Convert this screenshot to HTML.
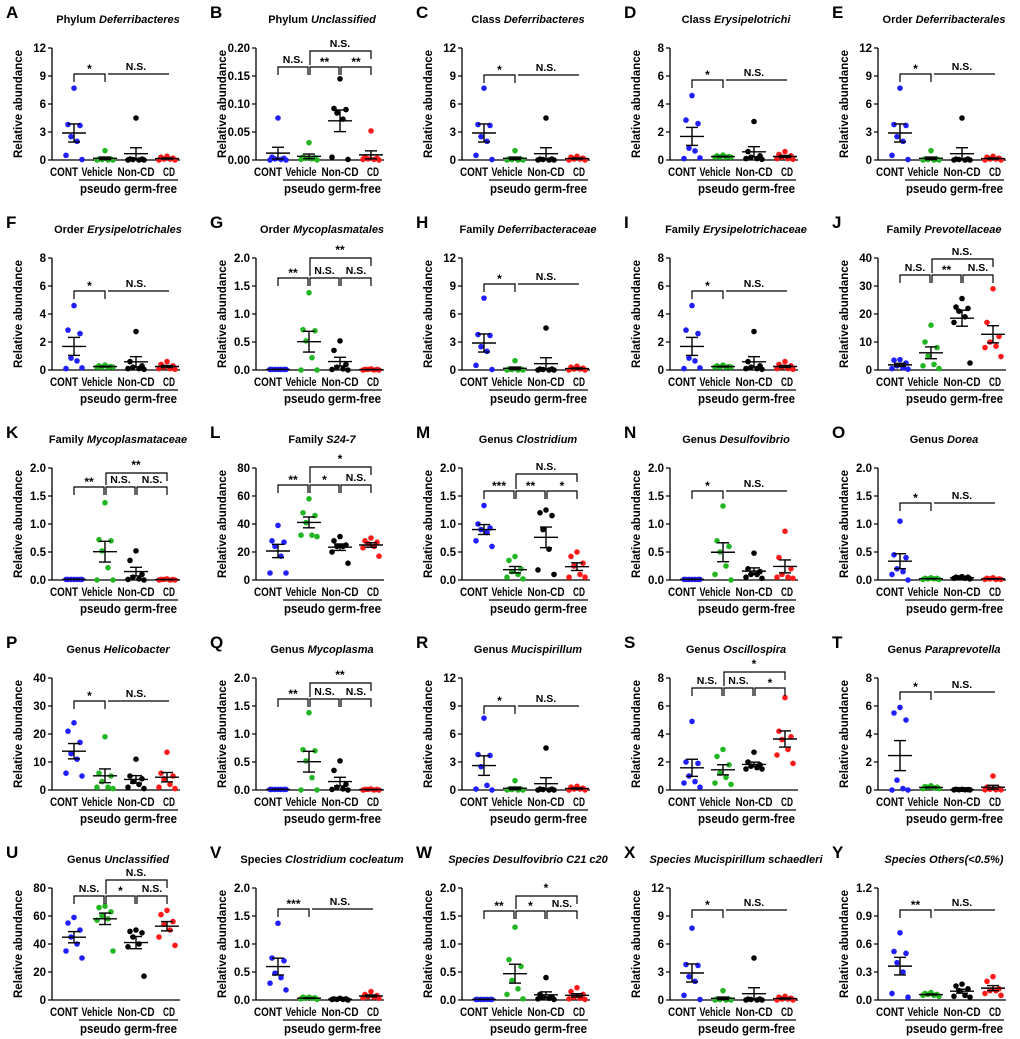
<!DOCTYPE html>
<html><head><meta charset="utf-8"><style>
html,body{margin:0;padding:0;background:#fff;}
svg{display:block;font-family:"Liberation Sans",Arial,sans-serif;}
</style></head><body>
<svg id="fig" width="1020" height="1039" viewBox="0 0 1020 1039" xmlns="http://www.w3.org/2000/svg"></svg>
<script>
const panelIds=["A","B","C","D","E","F","G","H","I","J","K","L","M","N","O","P","Q","R","S","T","U","V","W","X","Y"];
const titlePre=["Phylum ","Phylum ","Class ","Class ","Order ","Order ","Order ","Family ","Family ","Family ","Family ","Family ","Genus ","Genus ","Genus ","Genus ","Genus ","Genus ","Genus ","Genus ","Genus ","Species ","Species ","Species ","Species "];
const titleIt=["Deferribacteres","Unclassified","Deferribacteres","Erysipelotrichi","Deferribacterales","Erysipelotrichales","Mycoplasmatales","Deferribacteraceae","Erysipelotrichaceae","Prevotellaceae","Mycoplasmataceae","S24-7","Clostridium","Desulfovibrio","Dorea","Helicobacter","Mycoplasma","Mucispirillum","Oscillospira","Paraprevotella","Unclassified","Clostridium cocleatum","Desulfovibrio C21 c20","Mucispirillum schaedleri","Others(<0.5%)"];
const allItalic=[0,0,0,0,0,0,0,0,0,0,0,0,0,0,0,0,0,0,0,0,0,0,1,1,1];
const yMax=[12,0.2,12,8,12,8,2,12,8,40,2,80,2,2,2,40,2,12,8,8,80,2,2,12,1.2];
const yStep=[3,0.05,3,2,3,2,0.5,3,2,10,0.5,20,0.5,0.5,0.5,10,0.5,3,2,2,20,0.5,0.5,3,0.3];
const yDec=[0,2,0,0,0,0,1,0,0,0,1,0,1,1,1,0,1,0,0,0,0,1,1,0,1];
const groups=["CONT","Vehicle","Non-CD","CD"];
const defCont=[7.7,3.8,3.7,2.5,2.0,0.5,0.05], defVeh=[1.0,0.1,0.1,0.05,0,0,0], defNon=[4.5,0.1,0.1,0.05,0,0,0], defCD=[0.4,0.3,0.2,0.1,0.1,0,0];
const eryCont=[4.6,2.85,2.6,0.85,0.65,0.1,0.15], eryVeh=[0.35,0.3,0.25,0.2,0.2,0.2,0.2], eryNon=[2.75,0.6,0.3,0.2,0.1,0.1,0.05], eryCD=[0.6,0.4,0.3,0.2,0.1,0.1,0.05];
const myCont=[0.01,0.01,0.01,0.01,0.01,0.01,0.01], myVeh=[1.38,0.72,0.7,0.52,0.22,0,0], myNon=[0.52,0.35,0.1,0.05,0.02,0.01,0], myCD=[0.02,0.01,0.01,0.01,0,0,0];
const contVals=[defCont,[0.075,0.005,0.003,0.002,0.001,0,0],defCont,eryCont,defCont,eryCont,myCont,defCont,eryCont,[3.7,3.5,2.5,1.5,0.8,0.5,0.3],
 myCont,[39,28,27,24,17,5,5],[1.33,1.0,0.93,0.9,0.85,0.7,0.6],[0.01,0.01,0.01,0.01,0.01,0.01,0.01],[1.05,0.45,0.4,0.2,0.15,0.1,0.0],
 [24,21,17,13,11,6,5],myCont,[7.7,3.8,3.7,2.5,0.5,0.1,0],[4.9,2.0,1.9,1.0,0.6,0.5,0.2],[5.9,5.5,5.0,0.7,0.1,0,0],
 [59,55,50,45,40,35,30],[1.37,0.75,0.7,0.48,0.4,0.3,0.18],[0.01,0.01,0.01,0.01,0.01,0.01,0.01],defCont,[0.72,0.52,0.5,0.4,0.3,0.07,0.03]];
const vehVals=[defVeh,[0.031,0.005,0.004,0.003,0.002,0.001,0],defVeh,eryVeh,defVeh,eryVeh,myVeh,defVeh,eryVeh,[16,10,8,5,2,1.5,0.5],
 myVeh,[58,48,46,41,32,32,31],[0.42,0.35,0.2,0.15,0.1,0.05,0.02],[1.32,0.7,0.6,0.5,0.25,0.1,0],[0.04,0.03,0.03,0.02,0.02,0.01,0.01],
 [19,6,5,3,1,1,0.5],myVeh,defVeh,[2.9,2.4,1.8,1.2,0.9,0.5,0.4],[0.3,0.25,0.2,0.2,0.15,0.1,0.1],
 [67,66,63,60,58,57,35],[0.05,0.05,0.04,0.03,0.03,0.02,0.01],[1.3,0.72,0.6,0.35,0.2,0.1,0.02],defVeh,[0.08,0.07,0.06,0.06,0.05,0.05,0.04]];
const nonVals=[defNon,[0.145,0.092,0.09,0.084,0.073,0.005,0.001],defNon,eryNon,defNon,eryNon,myNon,defNon,eryNon,[25.5,22.5,22,21,19,17,2.5],
 myNon,[31,28,25,24,24,20,12],[1.25,1.2,1.15,0.9,0.55,0.18,0.1],[0.48,0.2,0.15,0.1,0.1,0.05,0.03],[0.06,0.05,0.05,0.04,0.03,0.03,0.02],
 [11,5,4,3,2,1,0.5],myNon,defNon,[2.7,2.0,1.8,1.7,1.6,1.5,1.5],[0.05,0.05,0.03,0.02,0.02,0.01,0.01],
 [50,49,48,45,40,38,17],[0.03,0.02,0.02,0.01,0.01,0.01,0],[0.4,0.1,0.05,0.04,0.03,0.02,0.01],defNon,[0.17,0.15,0.12,0.1,0.05,0.04,0.03]];
const cdVals=[defCD,[0.052,0.005,0.003,0.002,0.001,0.001,0],defCD,eryCD,defCD,eryCD,myCD,defCD,eryCD,[29,17,12,10,8.5,8,4.8],
 myCD,[30,28,27,26,24,23,17],[0.5,0.42,0.3,0.25,0.1,0.05,0.05],[0.87,0.4,0.2,0.1,0.05,0.05,0.03],[0.04,0.03,0.02,0.02,0.01,0.01,0.01],
 [13.5,6,5,4,2,1,0.5],myCD,defCD,[6.6,4.2,3.8,3.6,2.9,2.5,1.9],[1.0,0.2,0.1,0.05,0.02,0.01,0.01],
 [64,61,56,54,50,45,39],[0.15,0.1,0.08,0.06,0.05,0.04,0.03],[0.22,0.15,0.1,0.05,0.03,0.02,0.01],defCD,[0.25,0.2,0.12,0.1,0.1,0.07,0.05]];
const sigType=[1,2,1,1,1,1,2,1,1,2,2,2,2,1,1,1,2,1,2,1,2,1,2,1,1];
const sigLabels=[["*","N.S."],["N.S.","**","**","N.S."],["*","N.S."],["*","N.S."],["*","N.S."],["*","N.S."],["**","N.S.","N.S.","**"],["*","N.S."],["*","N.S."],["N.S.","**","N.S.","N.S."],
 ["**","N.S.","N.S.","**"],["**","*","N.S.","*"],["***","**","*","N.S."],["*","N.S."],["*","N.S."],["*","N.S."],["**","N.S.","N.S.","**"],["*","N.S."],["N.S.","N.S.","*","*"],["*","N.S."],
 ["N.S.","*","N.S.","N.S."],["***","N.S."],["**","*","N.S.","*"],["*","N.S."],["**","N.S."]];
const sigLow=[26,19,27,32,26,33,20,26,33,17,19,17,23,23,35,23,21,28,10,14,8,21,23,22,22];
const sigTop=[0,3,0,0,0,0,0,0,0,1,5,-1,6,0,0,0,5,0,-6,0,-8,0,8,0,0];

const svg=document.getElementById('fig');
const NS='http://www.w3.org/2000/svg';
function mk(tag,attrs,parent){const e=document.createElementNS(NS,tag);for(const k in attrs)e.setAttribute(k,attrs[k]);(parent||svg).appendChild(e);return e;}
const colX=[0,204,410,618,826];
const catOff=[74,105,136,167];
const labC=[64,97,136,169];
const labW=[28,31,37,12];
const colors=["#1f1fff","#22b722","#000000","#ff1a1a"];
const jit=[0,-6,6,-3,3,-8,8];
const H=112;

panelIds.forEach((id,i)=>{
  const r=Math.floor(i/5),c=i%5;
  const cx=colX[c], top=48+r*210, bot=top+H;
  const L=cx+52, R=cx+180;
  const g=mk('g',{});
  
  
  const yS=v=>bot-v/yMax[i]*H;
  const xS=k=>cx+catOff[k];
  const lt=mk('text',{x:cx+6,y:top-30,'font-size':17,'font-weight':'bold'},g);lt.textContent=id;
  
  
  const tt=mk('text',{x:cx+118,y:top-25,'font-size':11,'font-weight':'bold','text-anchor':'middle'},g);
  
  
  const t1=mk('tspan',{'font-style':allItalic[i]?'italic':'normal'},tt);t1.textContent=titlePre[i];
  const t2=mk('tspan',{'font-style':'italic'},tt);t2.textContent=titleIt[i];
  const ya=mk('line',{x1:L,y1:top,x2:L,y2:bot,stroke:'#000','stroke-width':1.3},g);
  
  
  const xa=mk('line',{x1:L,y1:bot,x2:R,y2:bot,stroke:'#000','stroke-width':1.3},g);
  
  
  const nT=Math.round(yMax[i]/yStep[i]);
  for(let t=0;t<=nT;t++){
    const v=t*yStep[i], y=yS(v);
    mk('line',{x1:L-4,y1:y,x2:L,y2:y,stroke:'#000','stroke-width':1.2},g);
    const tl=mk('text',{x:L-6,y:y+4,'font-size':11.5,'font-weight':'bold','text-anchor':'end'},g);
    tl.textContent=v.toFixed(yDec[i]);
    
    
  }
  const yl=mk('text',{x:0,y:0,'font-size':11.5,'font-weight':'bold','text-anchor':'middle',transform:`translate(${L-30},${top+H/2}) rotate(-90)`},g);
  yl.textContent='Relative abundance';
  
  
  groups.forEach((gn,k)=>{
    const xl=mk('text',{x:cx+labC[k]-labW[k]/2,y:bot+16,'font-size':12,'font-weight':'bold',textLength:labW[k],lengthAdjust:'spacingAndGlyphs'},g);
    xl.textContent=gn;
    
    
  });
  const ux1=cx+79, ux2=cx+178;
  mk('line',{x1:ux1,y1:bot+20,x2:ux2,y2:bot+20,stroke:'#000','stroke-width':1.2},g);
  const pg=mk('text',{x:ux1+1,y:bot+33,'font-size':12.5,'font-weight':'bold',textLength:ux2-ux1-2,lengthAdjust:'spacingAndGlyphs'},g);
  pg.textContent='pseudo germ-free';
  
  
  [contVals[i],vehVals[i],nonVals[i],cdVals[i]].forEach((vals,k)=>{
    const x0=xS(k);
    vals.forEach((v,j)=>{
      const d=mk('circle',{cx:x0+jit[j],cy:yS(v),r:2.8,fill:colors[k]},g);
      
      
    });
    const n=vals.length, m=vals.reduce((a,b)=>a+b,0)/n;
    const sd=Math.sqrt(vals.reduce((a,b)=>a+(b-m)*(b-m),0)/(n-1)), se=sd/Math.sqrt(n);
    const eb=mk('g',{stroke:'#000','stroke-width':1.4},g);
    
    
    mk('line',{x1:x0-12,y1:yS(m),x2:x0+12,y2:yS(m)},eb);
    mk('line',{x1:x0,y1:yS(m+se),x2:x0,y2:yS(Math.max(0,m-se))},eb);
    mk('line',{x1:x0-6,y1:yS(m+se),x2:x0+6,y2:yS(m+se)},eb);
    mk('line',{x1:x0-6,y1:yS(Math.max(0,m-se)),x2:x0+6,y2:yS(Math.max(0,m-se))},eb);
  });
  const sg=mk('g',{stroke:'#000','stroke-width':1.2,fill:'none'},g);
  
  
  const lab=(x,y,s)=>{const t=mk('text',{x:x,y:y,'font-size':s.indexOf('*')>=0?12:10.5,'font-weight':'bold','text-anchor':'middle',fill:'#000',stroke:'none'},g);t.textContent=s;
    
    };
  const br=(x1,x2,y,s)=>{mk('path',{d:`M${x1},${y+8}V${y}H${x2}V${y+8}`},sg);lab((x1+x2)/2,s.indexOf('*')>=0?y-1:y-4,s);};
  const yl1=top+sigLow[i];
  if(sigType[i]===1){
    br(xS(0),xS(1),yl1,sigLabels[i][0]);
    mk('line',{x1:xS(1)+3,y1:yl1,x2:xS(3)+2,y2:yl1},sg);
    lab((xS(1)+xS(3))/2,yl1-4,sigLabels[i][1]);
  }else{
    br(xS(0),xS(1)-1,yl1,sigLabels[i][0]);
    br(xS(1)+1,xS(2)-1,yl1,sigLabels[i][1]);
    br(xS(2)+1,xS(3),yl1,sigLabels[i][2]);
    const yt=top+sigTop[i];
    mk('path',{d:`M${xS(1)+1},${yl1-2}V${yt}H${xS(3)}V${yt+8}`},sg);
    lab((xS(1)+xS(3))/2,yt-4,sigLabels[i][3]);
  }
});
</script>
</body></html>
